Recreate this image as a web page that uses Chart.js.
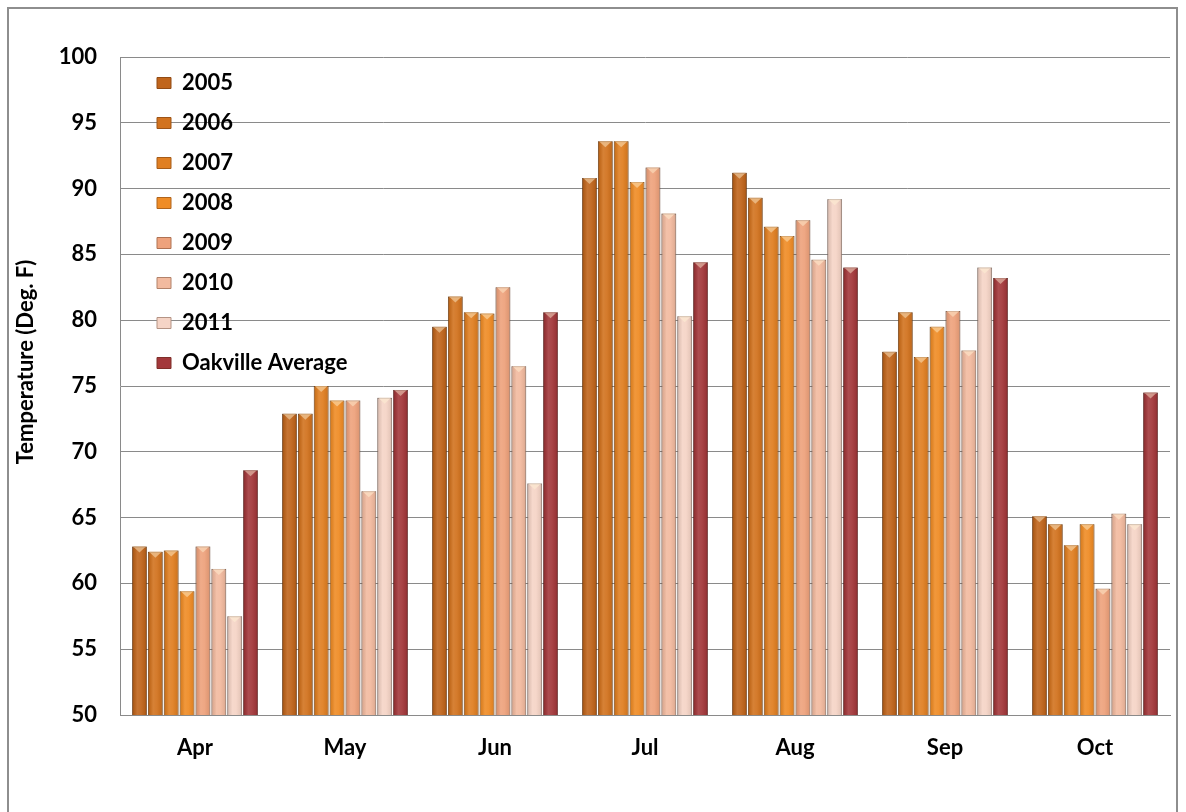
<!DOCTYPE html>
<html>
<head>
<meta charset="utf-8">
<script src="https://cdn.jsdelivr.net/npm/chart.js@4/dist/chart.umd.min.js"></script>
<style>
  html, body { margin: 0; padding: 0; background: #fff; }
  #wrap { width: 1186px; height: 812px; }
</style>
</head>
<body>
<div id="wrap"><canvas id="c" width="1186" height="812"></canvas></div>
<script>
// Monthly mean temperatures, Oakville (Deg. F)
const months = ['Apr', 'May', 'Jun', 'Jul', 'Aug', 'Sep', 'Oct'];
const t2005 = [62.8, 72.9, 79.5, 90.8, 91.2, 77.6, 65.1];
const t2006 = [62.4, 72.9, 81.8, 93.6, 89.3, 80.6, 64.5];
const t2007 = [62.5, 75.0, 80.6, 93.6, 87.1, 77.2, 62.9];
const t2008 = [59.4, 73.9, 80.5, 90.5, 86.4, 79.5, 64.5];
const t2009 = [62.8, 73.9, 82.5, 91.6, 87.6, 80.7, 59.6];
const t2010 = [61.1, 67.0, 76.5, 88.1, 84.6, 77.7, 65.3];
const t2011 = [57.5, 74.1, 67.6, 80.3, 89.2, 84.0, 64.5];
const oakvilleAvg = [68.6, 74.7, 80.6, 84.4, 84.0, 83.2, 74.5];

const seriesNames = ['2005', '2006', '2007', '2008', '2009', '2010', '2011', 'Oakville Average'];
const seriesValues = [t2005, t2006, t2007, t2008, t2009, t2010, t2011, oakvilleAvg];
const seriesColors = ['#C0651C', '#D2731F', '#E07F22', '#EF8C26', '#EEA27C', '#F2BA9F', '#F5D4C6', '#A3383B'];
const yTicks = { min: 50, max: 100, step: 5 };

const FONT = 'Lato';

function mix(hex, other, t) {
  const a = parseInt(hex.slice(1), 16), b = parseInt(other.slice(1), 16);
  const ch = (v, s) => (v >> s) & 255;
  const r = Math.round(ch(a,16) + (ch(b,16) - ch(a,16)) * t);
  const g = Math.round(ch(a,8) + (ch(b,8) - ch(a,8)) * t);
  const bl = Math.round(ch(a,0) + (ch(b,0) - ch(a,0)) * t);
  return `rgb(${r},${g},${bl})`;
}

// Page frame and white background
const framePlugin = {
  id: 'frame',
  beforeDraw(chart) {
    const ctx = chart.ctx;
    ctx.save();
    ctx.fillStyle = '#ffffff';
    ctx.fillRect(0, 0, chart.width, chart.height);
    ctx.strokeStyle = '#8e8e8e';
    ctx.lineWidth = 2;
    ctx.beginPath();
    ctx.moveTo(8, chart.height + 2);
    ctx.lineTo(8, 8);
    ctx.lineTo(1177, 8);
    ctx.lineTo(1177, chart.height + 2);
    ctx.stroke();
    ctx.restore();
  }
};

// Legend sits inside the plot, indented from the axis;
// the axis title is lifted a little above the plot's centre line
const placement = {
  id: 'placement',
  afterLayout(chart) {
    const lg = chart.legend;
    if (lg) {
      const h = lg.bottom - lg.top;
      lg.left = chart.chartArea.left + 19;
      lg.top = chart.chartArea.top - 3;
      lg.bottom = lg.top + h;
    }
    const ys = chart.scales.y;
    if (ys && !ys._titleLift) {
      const orig = ys.drawTitle.bind(ys);
      ys.drawTitle = function () {
        this.ctx.save();
        this.ctx.translate(0, -24);
        orig();
        this.ctx.restore();
      };
      ys._titleLift = true;
    }
  }
};

// Bevel shading over each bar: side shading and a light notch at the top
const bevelPlugin = {
  id: 'bevel',
  afterDatasetsDraw(chart) {
    const ctx = chart.ctx;
    const area = chart.chartArea;
    ctx.save();
    ctx.beginPath();
    ctx.rect(area.left, area.top, area.right - area.left, area.bottom - area.top);
    ctx.clip();
    chart.data.datasets.forEach((ds, di) => {
      const meta = chart.getDatasetMeta(di);
      if (meta.hidden) return;
      const base = seriesColors[di];
      meta.data.forEach(bar => {
        const { x, y, base: b, width } = bar.getProps(['x', 'y', 'base', 'width'], true);
        const l = x - width / 2, r = x + width / 2;
        const g = ctx.createLinearGradient(l, 0, r, 0);
        g.addColorStop(0, 'rgba(0,0,0,0.30)');
        g.addColorStop(0.12, 'rgba(0,0,0,0.08)');
        g.addColorStop(0.35, 'rgba(255,255,255,0.10)');
        g.addColorStop(0.6, 'rgba(255,255,255,0.06)');
        g.addColorStop(0.88, 'rgba(0,0,0,0.06)');
        g.addColorStop(1, 'rgba(0,0,0,0.28)');
        ctx.fillStyle = g;
        ctx.fillRect(l, y, width, b - y);
        // top notch
        ctx.beginPath();
        ctx.moveTo(l + 1, y);
        ctx.lineTo(r - 1, y);
        ctx.lineTo(x, y + 6);
        ctx.closePath();
        ctx.fillStyle = mix(base, '#FFF4D8', 0.5);
        ctx.fill();
        ctx.strokeStyle = 'rgba(0,0,0,0.12)';
        ctx.lineWidth = 1;
        ctx.beginPath();
        ctx.moveTo(l + 0.5, y + 0.5);
        ctx.lineTo(r - 0.5, y + 0.5);
        ctx.stroke();
      });
    });
    ctx.restore();
  }
};

const datasets = seriesNames.map((name, i) => ({
  label: name,
  data: seriesValues[i],
  backgroundColor: seriesColors[i],
  borderColor: mix(seriesColors[i], '#3a1a08', 0.35),
  borderWidth: 0.8,
  categoryPercentage: 0.846,
  barPercentage: 0.93
}));

new Chart(document.getElementById('c'), {
  type: 'bar',
  data: { labels: months, datasets },
  plugins: [framePlugin, placement, bevelPlugin],
  options: {
    responsive: false,
    animation: false,
    devicePixelRatio: 1,
    layout: { padding: { left: 0, top: 57, right: 16, bottom: 0 } },
    plugins: {
      tooltip: { enabled: false },
      legend: {
        position: 'chartArea',
        align: 'start',
        labels: {
          color: '#000',
          font: { family: FONT, size: 22, weight: 'bold' },
          boxWidth: 14,
          boxHeight: 11,
          padding: 18,
          generateLabels(chart) {
            return chart.data.datasets.map((ds, i) => ({
              text: ds.label,
              fillStyle: seriesColors[i],
              strokeStyle: mix(seriesColors[i], '#3a1a08', 0.35),
              lineWidth: 1,
              hidden: false,
              datasetIndex: i
            }));
          }
        }
      }
    },
    scales: {
      x: {
        grid: { display: false, drawTicks: false },
        border: { display: true, color: '#8a8a8a', width: 1 },
        ticks: {
          color: '#000',
          font: { family: FONT, size: 22, weight: 'bold' },
          padding: 20
        },
        afterFit(scale) { scale.height = 97; }
      },
      y: {
        min: yTicks.min,
        max: yTicks.max,
        grid: { color: '#8a8a8a', lineWidth: 1, drawTicks: false },
        border: { display: true, color: '#8a8a8a', width: 1 },
        ticks: {
          stepSize: yTicks.step,
          color: '#000',
          font: { family: FONT, size: 22, weight: 'bold' },
          padding: 23
        },
        title: {
          display: true,
          text: 'Temperature (Deg. F)',
          color: '#000',
          font: { family: FONT, size: 22, weight: 'bold' },
          padding: { top: 13, bottom: 0 }
        },
        afterFit(scale) { scale.width = 120; }
      }
    }
  }
});
</script>
</body>
</html>
